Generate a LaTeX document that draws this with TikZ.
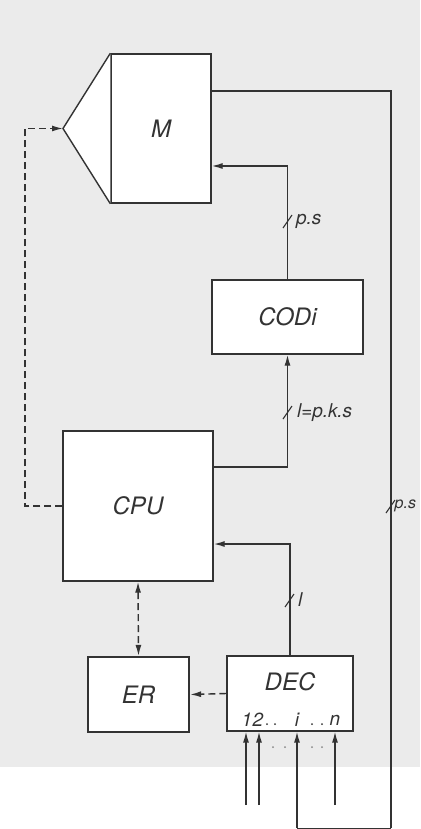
\documentclass[tikz,border=0pt]{standalone}
\usepackage{fontspec}
\setmainfont{TeX Gyre Heros}
\usepackage{xcolor}
\usetikzlibrary{arrows.meta}

\definecolor{ink}{HTML}{333333}
\definecolor{paper}{HTML}{EBEBEB}

\begin{document}
\begin{tikzpicture}[x=1pt, y=-1pt,
    line width=1.4pt, draw=ink,
    arr/.style={-{Latex[length=11pt,width=6pt]}},
    dsh/.style={dash pattern=on 7pt off 4pt},
    unit/.style={draw=ink, fill=white, line width=1.4pt, inner sep=0pt,
      font=\fontsize{24}{28}\selectfont\itshape, text=ink},
    tag/.style={font=\fontsize{19}{22}\selectfont\itshape, text=ink},
    slash/.style={line width=1.1pt}]
    % Page and grey background
    \useasboundingbox (0,0) rectangle (420,829);
    \fill[paper] (0,0) rectangle (420,767);

    % Blocks
    \node[unit, minimum width=100pt, minimum height=149pt] (M) at (161,128.5) {M};
    \node[unit, minimum width=151pt, minimum height=74pt] (CODi) at (287.5,317) {CODi};
    \node[unit, minimum width=150pt, minimum height=150pt] (CPU) at (138,506) {CPU};
    \node[unit, minimum width=101pt, minimum height=75pt, line width=2.2pt] (ER) at (138.5,694.5) {ER};
    \node[unit, minimum width=126pt, minimum height=75pt, line width=1.1pt] (DEC) at (290,693.5) {};
    \node[font=\fontsize{24}{28}\selectfont\itshape, text=ink] (DECt) at (290,682) {DEC};

    % Triangle on the left of M
    \coordinate (apex) at (63,128.5);
    \filldraw[fill=white, draw=ink] (M.north west) -- (apex) -- (M.south west);

    % Input numbers of DEC
    \foreach \x/\t in {247/1, 258/2, 297/i, 335/n}
      \node[tag, text=ink] at (\x,720) {\t};
    \foreach \x in {267,275,312,322}
      \fill[ink] (\x,724) circle (1pt);
    \foreach \x in {273,285,312,322}
      \fill[ink!60] (\x,747) circle (1pt);

    % Coordinates
    \coordinate (dl) at (25,506);
    \coordinate (rt) at (391,828);
    \coordinate (ii) at (297,828);
    \coordinate (i1) at (246,805);
    \coordinate (i2) at (259,805);
    \coordinate (in) at (335,805);

    % Data paths
    \draw[arr] (CODi.north) |- ([yshift=-37.5pt]M.east);
    \draw[arr] ([yshift=39pt]CPU.east) -| (CODi.south);
    \draw[arr] (DEC.north) |- ([yshift=-38pt]CPU.east);
    \draw ([yshift=37.5pt]M.east) -| (rt);
    \draw[line width=0.5pt] (rt) -- (ii);
    \draw[arr] (ii) -- (ii |- DEC.south);
    \foreach \p in {i1, i2, in}
      \draw[arr] (\p) -- (\p |- DEC.south);

    % Control paths
    \draw[dsh, arr] (CPU.west) -- (dl) |- (apex);
    \draw[dsh, {Latex[length=11pt,width=6pt]}-{Latex[length=11pt,width=6pt]}] (CPU.south) -- (ER.north);
    \draw[dsh, arr] (DEC.west) -- (ER.east);

    % Bus widths
    \draw[slash] (283,228) -- (292,215);
    \node[tag, anchor=west] at (292,221) {p.s};
    \draw[slash] (283,419) -- (292,406);
    \node[tag, anchor=west] at (293,413) {l=p.k.s};
    \draw[slash] (285,607) -- (294,594);
    \node[tag, anchor=west] at (294,600) {l};
    \draw[slash] (386,513) -- (395,500);
    \node[tag, anchor=west, inner sep=1pt, font=\fontsize{16}{18}\selectfont\itshape] at (393,506) {p.s};
  \end{tikzpicture}
\end{document}
